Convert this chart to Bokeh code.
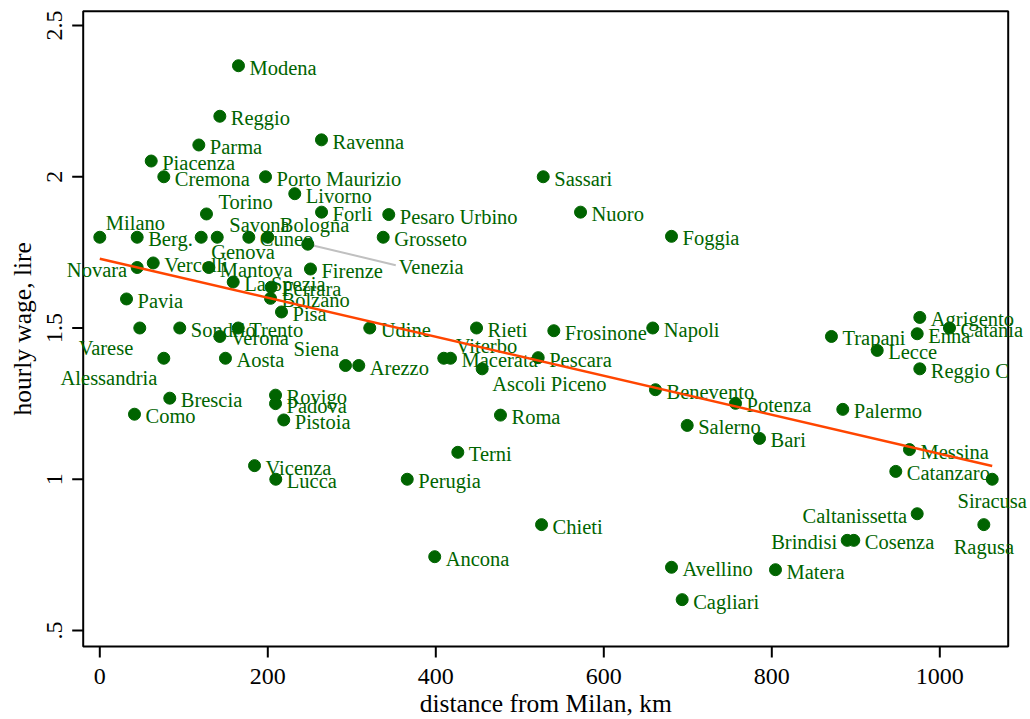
import numpy as np
from bokeh.plotting import figure
from bokeh.models import ColumnDataSource, Range1d
from bokeh.core.properties import value
from bokeh.embed import file_html
from bokeh.resources import INLINE

# provinces: distance from Milan (km) and hourly wage (lire)
cities = ["Milano", "Berg.", "Novara", "Vercelli", "Pavia", "Varese", "Como", "Sondrio",
          "Alessandria", "Brescia", "Cremona", "Piacenza", "Torino", "Genova", "Savona",
          "Mantova", "Parma", "Reggio", "Verona", "Aosta", "La Spezia", "Trento", "Modena",
          "Cuneo", "Vicenza", "Porto Maurizio", "Bologna", "Bolzano", "Ferrara", "Rovigo",
          "Padova", "Lucca", "Pisa", "Pistoia", "Livorno", "Venezia", "Firenze", "Ravenna",
          "Forli", "Siena", "Arezzo", "Udine", "Grosseto", "Pesaro Urbino", "Perugia",
          "Ancona", "Viterbo", "Macerata", "Terni", "Rieti", "Ascoli Piceno", "Roma",
          "Pescara", "Chieti", "Sassari", "Frosinone", "Nuoro", "Napoli", "Benevento",
          "Foggia", "Avellino", "Cagliari", "Salerno", "Potenza", "Bari", "Matera",
          "Trapani", "Palermo", "Brindisi", "Cosenza", "Lecce", "Catanzaro", "Messina",
          "Enna", "Caltanissetta", "Agrigento", "Reggio C", "Catania", "Ragusa", "Siracusa"]
dist_km = [0, 44.5, 44.5, 63.6, 31.8, 47.6, 41.3, 95.2,
           76.2, 83.3, 76.2, 61.2, 127, 120.7, 139.8,
           129.8, 117.9, 142.9, 142.9, 149.6, 158.8, 164.8, 165.1,
           177.4, 184.2, 197.3, 200, 203.2, 204, 209.2,
           209.2, 209.5, 216.3, 219, 232.1, 247.6, 250.8, 263.9,
           264, 292.5, 308.3, 321.4, 337.4, 344, 366,
           398.7, 409.5, 417.5, 426.2, 448.5, 455.2, 477,
           521.9, 525.9, 527.9, 540.5, 572.3, 658.3, 661.5,
           680.6, 680.6, 693.3, 699.3, 756.8, 785.4, 804.4,
           871, 884.5, 889.8, 897.6, 925.5, 947.6, 963.9,
           973.1, 973.1, 976.2, 976.2, 1011.5, 1052.4, 1062.4]
wage = [1.80, 1.80, 1.70, 1.715, 1.596, 1.50, 1.215, 1.50,
        1.40, 1.268, 2.00, 2.052, 1.877, 1.80, 1.80,
        1.70, 2.105, 2.20, 1.472, 1.40, 1.652, 1.50, 2.367,
        1.80, 1.045, 2.00, 1.80, 1.598, 1.635, 1.278,
        1.25, 1.00, 1.553, 1.196, 1.944, 1.777, 1.695, 2.122,
        1.883, 1.376, 1.376, 1.50, 1.80, 1.875, 1.00,
        0.744, 1.40, 1.40, 1.089, 1.50, 1.365, 1.212,
        1.402, 0.85, 2.00, 1.491, 1.883, 1.50, 1.296,
        1.803, 0.709, 0.602, 1.178, 1.251, 1.135, 0.701,
        1.472, 1.231, 0.798, 0.798, 1.426, 1.026, 1.098,
        1.481, 0.886, 1.535, 1.365, 1.50, 0.85, 1.00]
# Stata-style clock position of each label (0 = callout with leader line)
label_pos = [1, 3, 9, 3, 3, 7, 3, 3,
             7, 3, 3, 3, 2, 4, 2,
             3, 3, 3, 3, 3, 3, 3, 3,
             3, 3, 3, 2, 3, 3, 3,
             3, 3, 3, 3, 3, 0, 3, 3,
             3, 11, 3, 3, 3, 3, 3,
             3, 2, 3, 3, 3, 4, 3,
             3, 3, 3, 3, 3, 3, 3,
             3, 3, 3, 3, 3, 3, 3,
             3, 3, 9, 3, 3, 3, 3,
             3, 9, 3, 3, 3, 6, 6]

x_ticks = [0, 200, 400, 600, 800, 1000]
y_ticks = [0.5, 1.0, 1.5, 2.0, 2.5]
y_tick_labels = [".5", "1", "1.5", "2", "2.5"]

GREEN = "#006400"
FONT = "Liberation Serif"

# label offset in px (right, down, to the text's middle) and alignment per clock position
clock = {
    3: (11, 2, "left"),
    9: (-10, 2, "right"),
    2: (12, -12, "left"),
    1: (6, -14.5, "left"),
    4: (10, 15, "left"),
    7: (-6.5, 20, "right"),
    11: (-6.5, -17, "right"),
    6: (0, 22, "center"),
    0: (91, 23, "left"),
}
leader = (88, 21)

# page layout (px): whole canvas is the frame, axes are drawn by hand
W, H = 1030, 719
X_PX, Y_PX = 0.84, 302.5          # px per km, px per lira
X_ZERO, Y_TOP_TICK = 99.3, 25.0    # px of x=0 and of y=2.5
BOX_L, BOX_R, BOX_T, BOX_B = 82.7, 1007.7, 10.7, 646.0
TICK = 11

x0 = -X_ZERO / X_PX
y1 = 2.5 + Y_TOP_TICK / Y_PX


def to_x(px):
    return x0 + px / X_PX


def to_y(py):
    return y1 - py / Y_PX


p = figure(width=W, height=H, x_range=Range1d(x0, x0 + W / X_PX),
           y_range=Range1d(y1 - H / Y_PX, y1),
           output_backend="svg", toolbar_location=None,
           x_axis_location=None, y_axis_location=None, min_border=0,
           background_fill_color="white", border_fill_color="white")
p.xgrid.visible = False
p.ygrid.visible = False
p.outline_line_color = None

bl, br, bt, bb = to_x(BOX_L), to_x(BOX_R), to_y(BOX_T), to_y(BOX_B)

# plot region box and ticks
p.quad(left=[bl], right=[br], top=[bt], bottom=[bb], fill_color=None,
       line_color="black", line_width=2)
p.segment(x0=x_ticks, y0=[bb] * len(x_ticks), x1=x_ticks,
          y1=[bb - TICK / Y_PX] * len(x_ticks), line_color="black", line_width=2)
p.segment(x0=[bl] * len(y_ticks), y0=y_ticks, x1=[bl - TICK / X_PX] * len(y_ticks),
          y1=y_ticks, line_color="black", line_width=2)

# tick labels and axis titles
p.text(x=x_ticks, y=[to_y(676)] * len(x_ticks), text=[str(t) for t in x_ticks],
       text_align="center", text_baseline="middle", text_font=value(FONT),
       text_font_size="24px", text_color="black")
p.text(x=[to_x(54)] * len(y_ticks), y=y_ticks, text=y_tick_labels, angle=np.pi / 2,
       text_align="center", text_baseline="middle", text_font=value(FONT),
       text_font_size="24px", text_color="black")
p.text(x=[(bl + br) / 2], y=[to_y(703)], text=["distance from Milan, km"],
       text_align="center", text_baseline="middle", text_font=value(FONT),
       text_font_size="25.5px", text_color="black")
p.text(x=[to_x(21.5)], y=[(bt + bb) / 2], text=["hourly wage, lire"], angle=np.pi / 2,
       text_align="center", text_baseline="middle", text_font=value(FONT),
       text_font_size="25.5px", text_color="black")

# leader line for the callout label
for xv, yv, pos in zip(dist_km, wage, label_pos):
    if pos == 0:
        p.line([xv, xv + leader[0] / X_PX], [yv, yv - leader[1] / Y_PX],
               line_color="#c0c0c0", line_width=2)

p.scatter(dist_km, wage, size=12, fill_color=GREEN, line_color=GREEN)

labels = ColumnDataSource(dict(
    x=[xv + clock[pos][0] / X_PX for xv, pos in zip(dist_km, label_pos)],
    y=[yv - clock[pos][1] / Y_PX for yv, pos in zip(wage, label_pos)],
    name=cities,
    align=[clock[pos][2] for pos in label_pos],
))
p.text(x="x", y="y", text="name", source=labels, text_align="align",
       text_baseline="middle", text_font=value(FONT), text_font_size="20.5px",
       text_color=GREEN)

# fitted line
b, a = np.polyfit(dist_km, wage, 1)
fx = np.array([min(dist_km), max(dist_km)])
p.line(fx, a + b * fx, line_color="#ff4500", line_width=2.5)

open("out.html", "w").write(file_html(p, INLINE))
